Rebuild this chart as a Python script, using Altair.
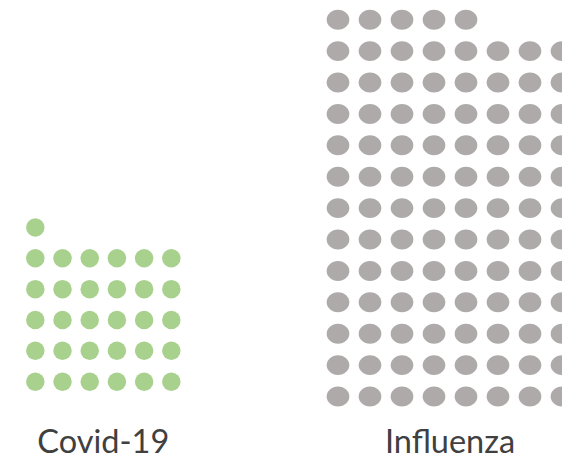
import altair as alt
import pandas as pd

# ---- data ----
categories = ["Covid-19", "Influenza"]
counts = [31, 101]          # number of dots per group
per_row = [6, 8]            # dots per full row
colors = ["#A9D18E", "#AEAAAA"]

rows = []
for cat, n, w in zip(categories, counts, per_row):
    for i in range(n):
        rows.append({"category": cat, "col": i % w, "row": i // w})
dots = pd.DataFrame(rows)

labels = pd.DataFrame({
    "category": categories,
    "center": [(w - 1) / 2 for w in per_row],
})

H = 447
FONT = "Lato"
TEXT_COLOR = "#404040"

# layout of each panel (scale domains in column/row units)
layout = {
    "Covid-19": dict(width=190, xdom=[-1.004, 5.981],
                     ydom=[12.113 - H / 30.85, 12.113],
                     shape="circle", size=342),
    "Influenza": dict(width=252, xdom=[-0.875, 7.0],
                      ydom=[12.373 - H / 31.4, 12.373],
                      shape="M-1,0A1,0.88,0,1,1,1,0A1,0.88,0,1,1,-1,0Z", size=515),
}

panels = []
for cat, color in zip(categories, colors):
    L = layout[cat]
    xs = alt.Scale(domain=L["xdom"], nice=False, zero=False)
    ys = alt.Scale(domain=L["ydom"], nice=False, zero=False)
    pts = alt.Chart(dots[dots.category == cat]).mark_point(
        filled=True, opacity=1, shape=L["shape"], size=L["size"],
        color=color, clip=True
    ).encode(
        x=alt.X("col:Q", scale=xs, axis=None),
        y=alt.Y("row:Q", scale=ys, axis=None),
    )
    txt = alt.Chart(labels[labels.category == cat]).mark_text(
        font=FONT, fontSize=32.5, color=TEXT_COLOR, baseline="alphabetic",
        align="center"
    ).encode(
        x=alt.X("center:Q", scale=xs, axis=None),
        y=alt.value(445),
        text="category:N",
    )
    panels.append(alt.layer(pts, txt).properties(width=L["width"], height=H))

chart = alt.hconcat(*panels, spacing=112).properties(
    padding=0, background="white"
).configure_view(stroke=None)

chart.save("out.html", embed_options={"renderer": "svg", "actions": False})
